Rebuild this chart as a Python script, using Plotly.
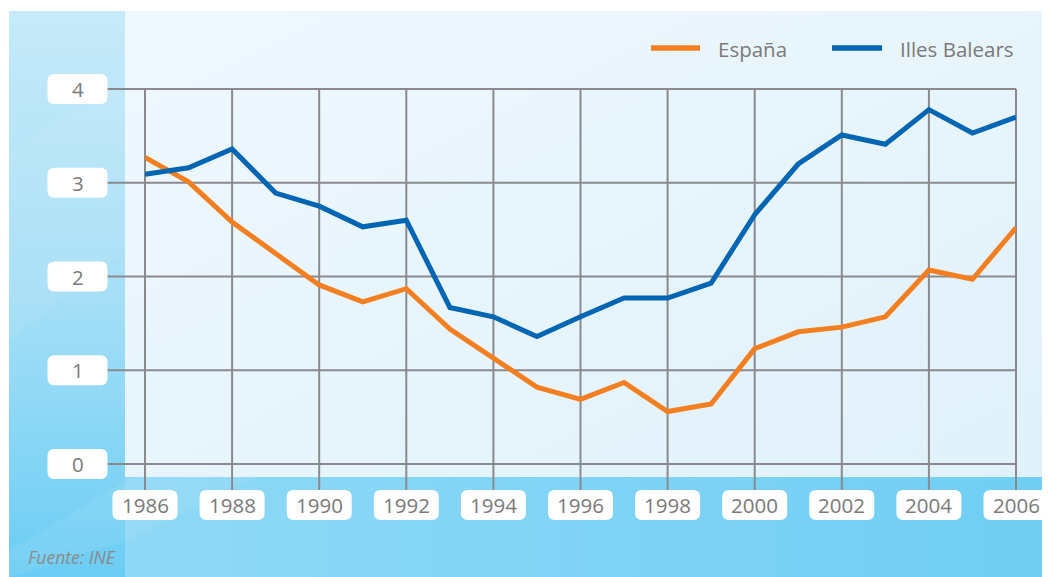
import base64
import plotly.graph_objects as go

# ---- data ----
years = list(range(1986, 2007))
espana = [3.27, 3.01, 2.58, 2.25, 1.91, 1.73, 1.87, 1.44, 1.13, 0.82, 0.69,
          0.87, 0.56, 0.64, 1.23, 1.41, 1.46, 1.57, 2.07, 1.97, 2.52]
baleares = [3.09, 3.16, 3.36, 2.89, 2.75, 2.53, 2.60, 1.67, 1.57, 1.36, 1.57,
            1.77, 1.77, 1.93, 2.66, 3.20, 3.51, 3.41, 3.78, 3.53, 3.70]
x_ticks = list(range(1986, 2007, 2))
y_ticks = [0, 1, 2, 3, 4]
series_names = ["España", "Illes Balears"]
source_text = "Fuente: INE"

# ---- layout constants (page body adds an 8px offset) ----
OFF = 8
W, H = 1050 - OFF, 577 - OFF
ML, MT = 145 - OFF, 89 - OFF
PW, PH = 871, 375
MR, MB = W - ML - PW, H - MT - PH
XR = [1986, 2006]
YR = [0, 4]
ORANGE = "#f47f20"
BLUE = "#0066b3"
GRID = "#8a8a8e"
TXT = "#7a7a7a"
FONT = "Open Sans"
FS = 20.5


def xp(v):  # data x -> paper
    return (v - XR[0]) / (XR[1] - XR[0])


def yp(v):  # data y -> paper
    return (v - YR[0]) / (YR[1] - YR[0])


def pxx(px):  # screen pixel x -> paper
    return (px - OFF - ML) / PW


def pxy(py):  # screen pixel y -> paper
    return (MT + PH - (py - OFF)) / PH


# ---- background (svg gradient image) ----
svg = '''<svg xmlns="http://www.w3.org/2000/svg" width="1041" height="566" viewBox="0 0 1041 566" preserveAspectRatio="none">
<defs>
<linearGradient id="lg" x1="0" y1="0" x2="0" y2="1"><stop offset="0" stop-color="#c6eaf9"/><stop offset="0.5" stop-color="#a6dff7"/><stop offset="1" stop-color="#6bcdf4"/></linearGradient>
<linearGradient id="bg" x1="0" y1="0" x2="1" y2="0"><stop offset="0" stop-color="#8fd9f6"/><stop offset="1" stop-color="#70cef4"/></linearGradient>
<linearGradient id="mg" x1="0" y1="0" x2="1" y2="1"><stop offset="0" stop-color="#eff8fe"/><stop offset="1" stop-color="#e0f1fa"/></linearGradient>
</defs>
<rect x="0" y="0" width="1041" height="566" fill="#7fd3f5"/>
<rect x="0" y="0" width="116" height="566" fill="url(#lg)"/>
<rect x="116" y="466" width="925" height="100" fill="url(#bg)"/>
<rect x="116" y="0" width="925" height="466" fill="url(#mg)"/>
<polygon points="0,140 116,70 116,240 0,330" fill="#ffffff" fill-opacity="0.06"/>
<polygon points="0,540 116,470 300,390 560,250 1041,0 1041,40 560,290 300,440 116,530 0,566" fill="#ffffff" fill-opacity="0.07"/>
</svg>'''
svg_uri = "data:image/svg+xml;base64," + base64.b64encode(svg.encode()).decode()

fig = go.Figure()
fig.add_trace(go.Scatter(x=years, y=espana, mode="lines", name=series_names[0],
                         line=dict(color=ORANGE, width=5), showlegend=False,
                         cliponaxis=False))
fig.add_trace(go.Scatter(x=years, y=baleares, mode="lines", name=series_names[1],
                         line=dict(color=BLUE, width=5), showlegend=False,
                         cliponaxis=False))

shapes = []
annotations = []

# horizontal gridlines (extend left to label boxes)
for v in y_ticks:
    shapes.append(dict(type="line", xref="paper", yref="paper",
                       x0=pxx(107), x1=1, y0=yp(v), y1=yp(v),
                       line=dict(color=GRID, width=2), layer="below"))
# vertical gridlines (extend down to label boxes)
for v in x_ticks:
    shapes.append(dict(type="line", xref="paper", yref="paper",
                       x0=xp(v), x1=xp(v), y0=pxy(490), y1=1,
                       line=dict(color=GRID, width=2), layer="below"))


def rrect(w, h, r):
    x0, x1, y0, y1 = -w / 2, w / 2, -h / 2, h / 2
    return (f"M {x0 + r} {y0} L {x1 - r} {y0} Q {x1} {y0} {x1} {y0 + r} "
            f"L {x1} {y1 - r} Q {x1} {y1} {x1 - r} {y1} L {x0 + r} {y1} "
            f"Q {x0} {y1} {x0} {y1 - r} L {x0} {y0 + r} Q {x0} {y0} {x0 + r} {y0} Z")


# y tick label boxes
for v in y_ticks:
    shapes.append(dict(type="path", xref="paper", yref="paper",
                       xsizemode="pixel", ysizemode="pixel",
                       xanchor=pxx(77.5), yanchor=yp(v),
                       path=rrect(60, 30, 7), fillcolor="white",
                       line=dict(width=0), layer="below"))
    annotations.append(dict(xref="paper", yref="paper", x=pxx(77.5), y=yp(v),
                            text=str(v), showarrow=False, xanchor="center",
                            yanchor="middle", font=dict(family=FONT, size=FS, color=TXT)))
# x tick label boxes
for v in x_ticks:
    shapes.append(dict(type="path", xref="paper", yref="paper",
                       xsizemode="pixel", ysizemode="pixel",
                       xanchor=xp(v), yanchor=pxy(505),
                       path=rrect(65, 30, 7), fillcolor="white",
                       line=dict(width=0), layer="below"))
    annotations.append(dict(xref="paper", yref="paper", x=xp(v), y=pxy(505),
                            text=str(v), showarrow=False, xanchor="center",
                            yanchor="middle", font=dict(family=FONT, size=FS, color=TXT)))

# manual legend
legend_items = [(series_names[0], ORANGE, 651, 700, 716),
                (series_names[1], BLUE, 832, 882, 898)]
for name, col, lx0, lx1, tx in legend_items:
    shapes.append(dict(type="line", xref="paper", yref="paper",
                       x0=pxx(lx0), x1=pxx(lx1), y0=pxy(48), y1=pxy(48),
                       line=dict(color=col, width=5.5)))
    annotations.append(dict(xref="paper", yref="paper", x=pxx(tx), y=pxy(49),
                            text=name, showarrow=False, xanchor="left",
                            yanchor="middle", font=dict(family=FONT, size=FS, color=TXT)))

# source
annotations.append(dict(xref="paper", yref="paper", x=pxx(26), y=pxy(557),
                        text=f"<i>{source_text}</i>", showarrow=False, xanchor="left",
                        yanchor="middle", font=dict(family=FONT, size=17.5, color="#8a8a8a")))

fig.update_layout(
    width=W, height=H,
    margin=dict(l=ML, r=MR, t=MT, b=MB, pad=0),
    paper_bgcolor="white",
    plot_bgcolor="rgba(0,0,0,0)",
    xaxis=dict(range=XR, showgrid=False, zeroline=False, showticklabels=False,
               showline=False, ticks="", fixedrange=True),
    yaxis=dict(range=YR, showgrid=False, zeroline=False, showticklabels=False,
               showline=False, ticks="", fixedrange=True),
    shapes=shapes,
    annotations=annotations,
    images=[dict(source=svg_uri, xref="paper", yref="paper",
                 x=pxx(9), y=pxy(11), sizex=(1050 - 9) / PW, sizey=(577 - 11) / PH,
                 xanchor="left", yanchor="top", sizing="stretch", layer="below")],
    showlegend=False,
)

fig.write_html("out.html")
